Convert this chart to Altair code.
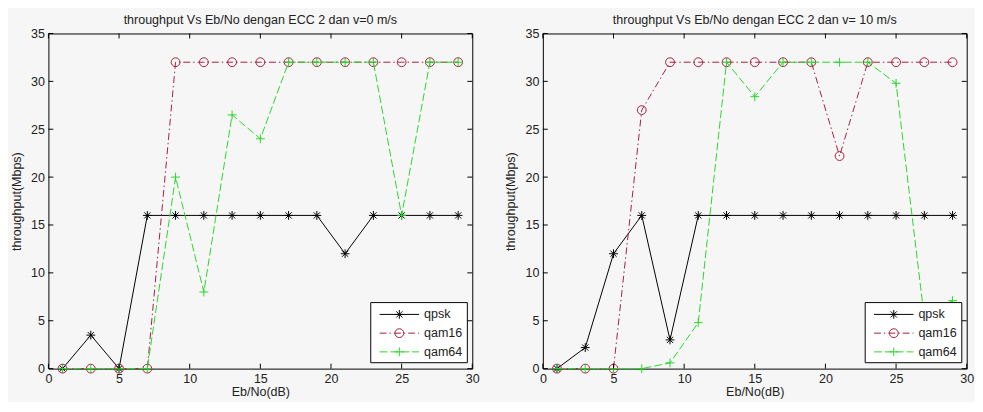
import altair as alt
import pandas as pd

# ---------------- data ----------------
x_db = [1, 3, 5, 7, 9, 11, 13, 15, 17, 19, 21, 23, 25, 27, 29]
series_names = ["qpsk", "qam16", "qam64"]

v0_qpsk = [0, 3.5, 0, 16, 16, 16, 16, 16, 16, 16, 12, 16, 16, 16, 16]
v0_qam16 = [0, 0, 0, 0, 32, 32, 32, 32, 32, 32, 32, 32, 32, 32, 32]
v0_qam64 = [0, 0, 0, 0, 20, 8, 26.5, 24, 32, 32, 32, 32, 16, 32, 32]

v10_qpsk = [0, 2.2, 12, 16, 3, 16, 16, 16, 16, 16, 16, 16, 16, 16, 16]
v10_qam16 = [0, 0, 0, 27, 32, 32, 32, 32, 32, 32, 22.2, 32, 32, 32, 32]
v10_qam64 = [0, 0, 0, 0, 0.6, 4.8, 32, 28.4, 32, 32, 32, 32, 29.8, 5.3, 7.1]

x_ticks = [0, 5, 10, 15, 20, 25, 30]
y_ticks = [0, 5, 10, 15, 20, 25, 30, 35]

titles = [
    "throughput Vs Eb/No dengan ECC 2 dan v=0 m/s",
    "throughput Vs Eb/No dengan ECC 2 dan v= 10 m/s",
]
x_title = "Eb/No(dB)"
y_title = "throughput(Mbps)"

# ---------------- styling ----------------
W, H = 430, 340
FONT = "Liberation Sans"
FS = 12.7
TXT = "#222222"

colors = {"qpsk": "#000000", "qam16": "#a3203f", "qam64": "#2ad62a"}
dashes = {"qpsk": None, "qam16": [7, 3, 1.5, 3], "qam64": [8, 3]}
shapes = {
    "qpsk": "M-1,0L1,0M0,-1L0,1M-0.7,-0.7L0.7,0.7M-0.7,0.7L0.7,-0.7",
    "qam16": "circle",
    "qam64": "M-1,0L1,0M0,-1L0,1",
}

xs = alt.Scale(domain=[0, 30], nice=False, zero=False)
ys = alt.Scale(domain=[0, 35], nice=False, zero=False)
xa = alt.Axis(values=x_ticks, ticks=False, domain=False, grid=False,
              labelPadding=4, titlePadding=1, labelFlush=False,
              title=x_title, labelOverlap=False)
ya = alt.Axis(values=y_ticks, ticks=False, domain=False, grid=False,
              labelPadding=4, titlePadding=7.5, labelFlush=False,
              title=y_title, labelOverlap=False)


def X(f):
    return alt.X(f, type="quantitative", scale=xs, axis=xa)


def Y(f):
    return alt.Y(f, type="quantitative", scale=ys, axis=ya)


def line_kw(s):
    kw = dict(color=colors[s], strokeWidth=1)
    if dashes[s]:
        kw["strokeDash"] = dashes[s]
    return kw


def panel(vals, title):
    layers = []
    for s in series_names:
        d = pd.DataFrame({"x": x_db, "y": vals[s], "series": s})
        layers.append(alt.Chart(d).mark_line(**line_kw(s)).encode(x=X("x"), y=Y("y")))
        layers.append(
            alt.Chart(d).mark_point(shape=shapes[s], filled=False, size=80,
                                    color=colors[s], strokeWidth=1, opacity=1)
            .encode(x=X("x"), y=Y("y"))
        )

    # inward ticks on all four sides (MATLAB box style)
    dxt = pd.DataFrame({"t": x_ticks})
    dyt = pd.DataFrame({"t": y_ticks})
    layers.append(alt.Chart(dxt).mark_rule(color="black", strokeWidth=1)
                  .encode(x=X("t"), y=alt.value(H), y2=alt.value(H - 5)))
    layers.append(alt.Chart(dxt).mark_rule(color="black", strokeWidth=1)
                  .encode(x=X("t"), y=alt.value(0), y2=alt.value(5)))
    layers.append(alt.Chart(dyt).mark_rule(color="black", strokeWidth=1)
                  .encode(y=Y("t"), x=alt.value(0), x2=alt.value(5)))
    layers.append(alt.Chart(dyt).mark_rule(color="black", strokeWidth=1)
                  .encode(y=Y("t"), x=alt.value(W), x2=alt.value(W - 5)))

    # legend box (lower right, inside the axes)
    bx1, by1 = W - 5, H - 6
    bx0, by0 = bx1 - 98, by1 - 61
    layers.append(alt.Chart(pd.DataFrame({"k": [0]}))
                  .mark_rect(fill="white", stroke="black", strokeWidth=1)
                  .encode(x=alt.value(bx0), x2=alt.value(bx1),
                          y=alt.value(by0), y2=alt.value(by1)))
    for i, s in enumerate(series_names):
        yy = by0 + 12 + 19 * i
        dl = pd.DataFrame({"series": [s]})
        layers.append(alt.Chart(dl).mark_rule(**line_kw(s))
                      .encode(x=alt.value(bx0 + 9), x2=alt.value(bx0 + 49), y=alt.value(yy)))
        layers.append(alt.Chart(dl).mark_point(shape=shapes[s], filled=False, size=80,
                                               color=colors[s], strokeWidth=1, opacity=1)
                      .encode(x=alt.value(bx0 + 29), y=alt.value(yy)))
        layers.append(alt.Chart(dl).mark_text(align="left", baseline="middle", font=FONT,
                                              fontSize=FS, color=TXT)
                      .encode(x=alt.value(bx0 + 54), y=alt.value(yy), text="series:N"))

    return alt.layer(*layers).properties(
        width=W, height=H,
        title=alt.TitleParams(title, font=FONT, fontSize=FS, fontWeight="normal",
                              color=TXT, offset=1),
    )


p1 = panel({"qpsk": v0_qpsk, "qam16": v0_qam16, "qam64": v0_qam64}, titles[0])
p2 = panel({"qpsk": v10_qpsk, "qam16": v10_qam16, "qam64": v10_qam64}, titles[1])

chart = (
    alt.hconcat(p1, p2, spacing=23.6)
    .configure(background="#f6f6f6", padding={"left": 1, "top": 2, "right": 0, "bottom": 0})
    .configure_view(stroke="black", strokeWidth=1)
    .configure_axis(labelFont=FONT, titleFont=FONT, labelFontSize=FS, titleFontSize=FS,
                    titleFontWeight="normal", labelColor=TXT, titleColor=TXT)
)

chart.save("out.html", embed_options={"renderer": "svg", "actions": False})
